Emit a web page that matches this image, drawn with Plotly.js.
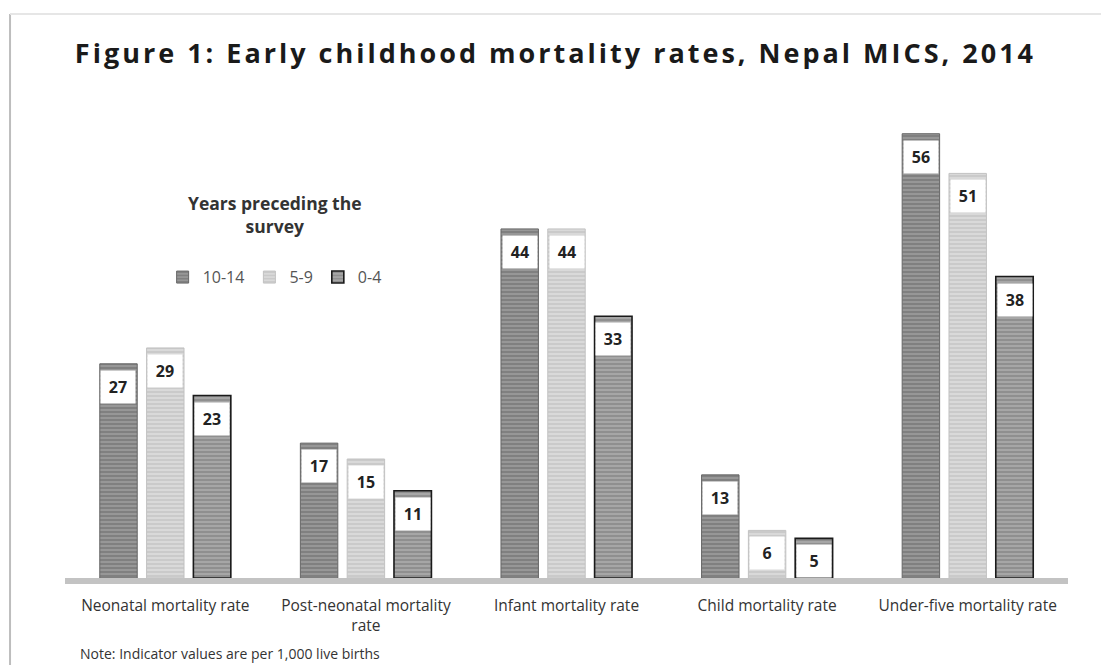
<!DOCTYPE html>
<html>
<head>
<meta charset="utf-8">
<script src="https://cdn.plot.ly/plotly-3.0.1.min.js"></script>
<style>
html,body{margin:0;padding:0;background:#fff;overflow:hidden;}
#chart{width:1101px;height:665px;}
#chart .gtitle{letter-spacing:3px;}
</style>
</head>
<body>
<div id="chart"></div>
<script>
const categories = ["Neonatal mortality rate", "Post-neonatal mortality<br>rate", "Infant mortality rate", "Child mortality rate", "Under-five mortality rate"];
const seriesNames = ["10-14", "5-9", "0-4"];
const values_10_14 = [27, 17, 44, 13, 56];
const values_5_9 = [29, 15, 44, 6, 51];
const values_0_4 = [23, 11, 33, 5, 38];
const noteText = "Note: Indicator values are per 1,000 live births";
const titleText = "Figure 1: Early childhood mortality rates, Nepal MICS, 2014";
const legendTitle = "Years preceding the<br>survey";

const allValues = [values_10_14, values_5_9, values_0_4];
const styles = [
  {bg: "#979797", fg: "#767676", line: "#666666", lw: 1},
  {bg: "#d9d9d9", fg: "#c4c4c4", line: "#c2c2c2", lw: 1},
  {bg: "#a6a6a6", fg: "#858585", line: "#1a1a1a", lw: 1.6}
];

const traces = allValues.map((vals, k) => ({
  type: "bar",
  name: seriesNames[k],
  x: categories,
  y: vals,
  marker: {
    color: styles[k].bg,
    line: {color: styles[k].line, width: styles[k].lw},
    pattern: {shape: "-", fgcolor: styles[k].fg, bgcolor: styles[k].bg, size: 4, solidity: 0.35, fillmode: "replace"}
  },
  hoverinfo: "skip"
}));

const bargap = 0.3;
const slot = (1 - bargap) / 3;
const annotations = [];
allValues.forEach((vals, k) => {
  vals.forEach((v, i) => {
    annotations.push({
      x: i + (k - 1) * slot, xref: "x",
      y: v, yref: "y",
      yanchor: "top", yshift: -6,
      text: "<b>" + v + "</b>",
      showarrow: false,
      bgcolor: "#ffffff",
      width: 32, height: 30,
      borderpad: 1,
      font: {family: "Open Sans, sans-serif", size: 16, color: "#222"}
    });
  });
});
annotations.push({
  x: 0.013, xref: "paper", xanchor: "left",
  y: -0.158, yref: "paper", yanchor: "middle",
  text: noteText, showarrow: false,
  font: {family: "Open Sans, sans-serif", size: 14, color: "#333"}
});
annotations.push({
  x: 0.209, xref: "paper", xanchor: "center",
  y: 0.818, yref: "paper", yanchor: "top",
  text: "<b>" + legendTitle + "</b>", showarrow: false,
  align: "center",
  font: {family: "Open Sans, sans-serif", size: 17.5, color: "#333"}
});

const layout = {
  width: 1101, height: 665,
  margin: {l: 65, r: 33, t: 102, b: 87},
  paper_bgcolor: "#ffffff",
  plot_bgcolor: "#ffffff",
  barmode: "group",
  bargap: bargap,
  bargroupgap: 0.2,
  title: {
    text: "<b>" + titleText + "</b>",
    x: 0.068, xanchor: "left",
    y: 0.92, yanchor: "middle",
    font: {family: "Open Sans, sans-serif", size: 27, color: "#1a1a1a"}
  },
  xaxis: {
    type: "category",
    range: [-0.5, 4.5],
    showline: true, linecolor: "#c3c3c3", linewidth: 6,
    ticks: "", showgrid: false, zeroline: false,
    ticklabelstandoff: 8,
    tickfont: {family: "Open Sans, sans-serif", size: 15.5, color: "#333"},
    automargin: false
  },
  yaxis: {
    range: [0, 60],
    visible: false, showgrid: false, zeroline: false
  },
  showlegend: true,
  legend: {
    orientation: "h",
    x: 0.209, xanchor: "center",
    y: 0.632, yanchor: "middle",
    bgcolor: "rgba(0,0,0,0)",
    font: {family: "Open Sans, sans-serif", size: 16, color: "#555"},
    itemwidth: 30,
    tracegroupgap: 0
  },
  annotations: annotations,
  shapes: [
    {type: "line", xref: "paper", yref: "paper", x0: -0.0548, x1: -0.0548, y0: 1.185, y1: -0.2, line: {color: "#bdbdbd", width: 2}},
    {type: "line", xref: "paper", yref: "paper", x0: -0.0548, x1: 1.04, y0: 1.185, y1: 1.185, line: {color: "#e6e6e6", width: 2}}
  ]
};

Plotly.newPlot("chart", traces, layout, {displayModeBar: false, staticPlot: true});
</script>
</body>
</html>
